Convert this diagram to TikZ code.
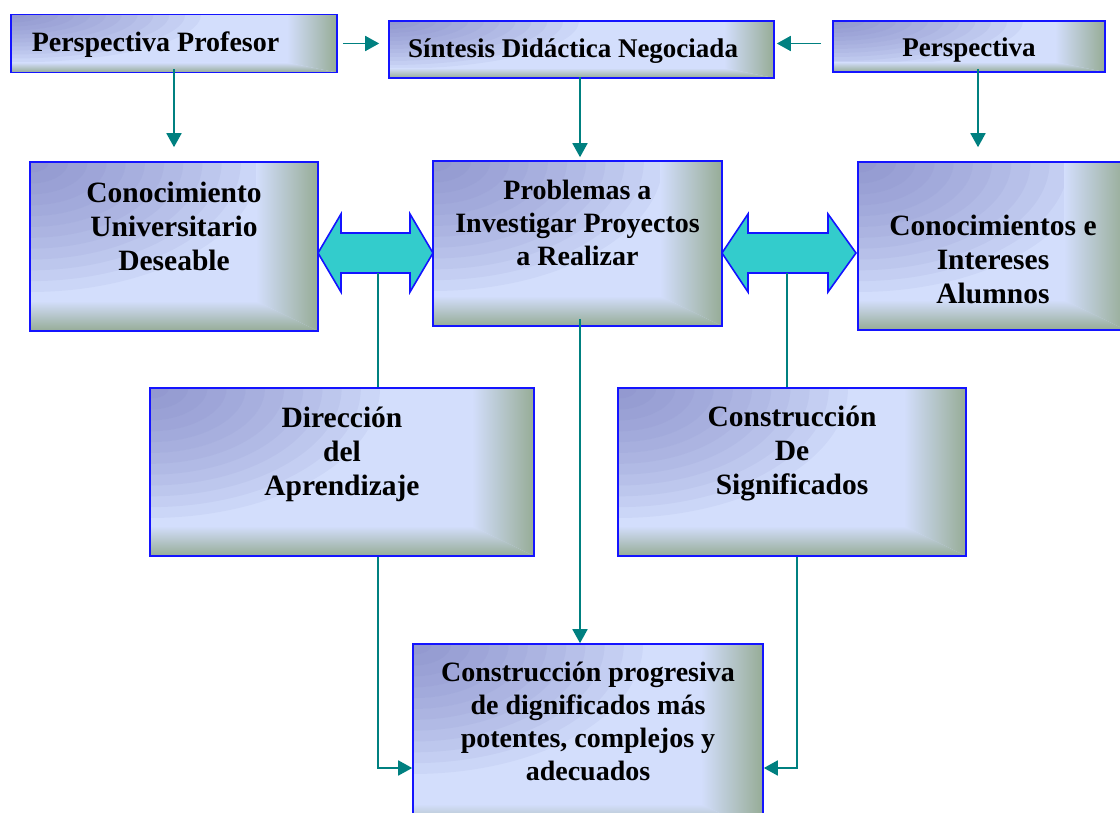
\documentclass[tikz,border=0pt]{standalone}
\usepackage{fontspec}
\setmainfont{Liberation Serif}
\usetikzlibrary{arrows.meta,calc}
\definecolor{base}{RGB}{211,222,252}
\definecolor{lav}{RGB}{112,116,186}
\definecolor{gg}{RGB}{150,172,150}
\definecolor{conn}{RGB}{0,128,128}
\definecolor{aqua}{RGB}{51,204,204}
\definecolor{bord}{RGB}{20,20,255}
\tikzset{
  x=1pt, y=-1pt,
  gbox/.style n args={4}{draw=bord, line width=1.6pt, fill=base, inner sep=0pt,
    path picture={
      \path (path picture bounding box.north west) coordinate (NW)
            (path picture bounding box.north east) coordinate (NE)
            (path picture bounding box.south east) coordinate (SE)
            (path picture bounding box.south west) coordinate (SW);
      \foreach \k in {1,...,12}{
        \fill[lav, opacity=0.075] (NW) ellipse ({#3*\k/12} and {#4*\k/12});
      }
      \shade[top color=base, bottom color=gg] ($(SW)+(0,-#2)$) -- ($(SE)+(-#1,-#2)$) -- (SE) -- (SW) -- cycle;
      \shade[left color=base, right color=gg] ($(NE)+(-#1,0)$) -- ($(SE)+(-#1,-#2)$) -- (SE) -- (NE) -- cycle;
    }},
  smallbox/.style={gbox={50}{10}{190}{48}},
  bigbox/.style={gbox={62}{30}{230}{130}},
  toplbl/.style={font=\bfseries\fontsize{27}{30}\selectfont, inner sep=0pt, anchor=base},
  lbl/.style={font=\bfseries\fontsize{29.5}{34}\selectfont, align=center, inner sep=0pt},
  lbls/.style={font=\bfseries\fontsize{28}{33}\selectfont, align=center, inner sep=0pt},
  link/.style={draw=conn, line width=1.8pt},
  arr/.style={link, -{Triangle[length=14pt,width=15pt]}},
  dbl/.style={draw=bord, line width=1.6pt, fill=aqua, line join=miter},
}
\begin{document}
\begin{tikzpicture}
\useasboundingbox (0,0) rectangle (1120,813);

% boxes
\node[smallbox, minimum width=326, minimum height=58] (pp) at (174,43.5) {};
\node[smallbox, minimum width=385, minimum height=57] (sd) at (581.5,49.5) {};
\node[smallbox, minimum width=272, minimum height=51] (pa) at (969,46.5) {};
\node[bigbox, minimum width=288, minimum height=169] (cu) at (174,246.5) {};
\node[bigbox, minimum width=289, minimum height=165] (pr) at (577.5,243.5) {};
\node[bigbox, minimum width=268, minimum height=168] (ci) at (992,246) {};
\node[bigbox, minimum width=384, minimum height=168] (da) at (342,472) {};
\node[bigbox, minimum width=348, minimum height=168] (cs) at (792,472) {};
\node[bigbox, minimum width=350, minimum height=190] (cp) at (588,739) {};

% labels
\node[toplbl, font=\bfseries\fontsize{28}{30}\selectfont] (ppt) at (155.5,52) {Perspectiva Profesor};
\node[toplbl] (sdt) at (573,58) {Síntesis Didáctica Negociada};
\node[toplbl] (pat) at (969,57) {Perspectiva};
\node[lbl] (cut) at (174,226) {Conocimiento\\Universitario\\Deseable};
\node[lbls] (prt) at (577.5,223) {Problemas a\\Investigar Proyectos\\a Realizar};
\node[lbl] (cit) at (993,259) {Conocimientos e\\Intereses\\Alumnos};
\node[lbl] (dat) at (342,454) {Dirección\\del\\Aprendizaje};
\node[lbl] (cst) at (792,454) {Construcción\\De\\Significados};
\node[lbls] (cpt) at (588,721) {Construcción progresiva\\de dignificados más\\potentes, complejos y\\adecuados};

% double arrows
\draw[dbl] (318,253) -- (341,214) -- (341,233) -- (410,233) -- (410,214) -- (433,253)
  -- (410,292) -- (410,273) -- (341,273) -- (341,292) -- cycle;
\coordinate (la) at (378,273);
\draw[dbl] (722,253) -- (748,214) -- (748,233) -- (828,233) -- (828,214) -- (856,253)
  -- (828,292) -- (828,273) -- (748,273) -- (748,292) -- cycle;
\coordinate (ra) at (787,273);

% connectors
\draw[arr, shorten >=14pt] ([yshift=4pt]pp.south) -- (cu.north);
\draw[arr] ([xshift=5pt]pp.east) -- ([xshift=-9pt]sd.west |- pp.east);
\draw[arr] ([xshift=-11pt]pa.west |- pp.east) -- ([xshift=2pt]sd.east |- pp.east);
\draw[arr, shorten >=3pt] ([xshift=-1.5pt,yshift=2pt]sd.south) -- ([xshift=-1.5pt]sd.south |- pr.north);
\draw[arr, shorten >=14pt] ([xshift=9pt,yshift=4pt]pa.south) -- ([xshift=9pt]pa.south |- ci.north);
\draw[link] (la) -- (la |- da.north);
\draw[link] (ra) -- (ra |- cs.north);
\draw[arr] ([xshift=2.5pt,yshift=8pt]pr.south) -- ([xshift=2.5pt]pr.south |- cp.north);
\coordinate (dl) at ([yshift=-29pt]cp.west);
\draw[arr] (la |- da.south) |- (dl);
\coordinate (dr) at ([yshift=-29pt]cp.east);
\draw[arr] ([xshift=5pt]cs.south) |- (dr);
\end{tikzpicture}
\end{document}
